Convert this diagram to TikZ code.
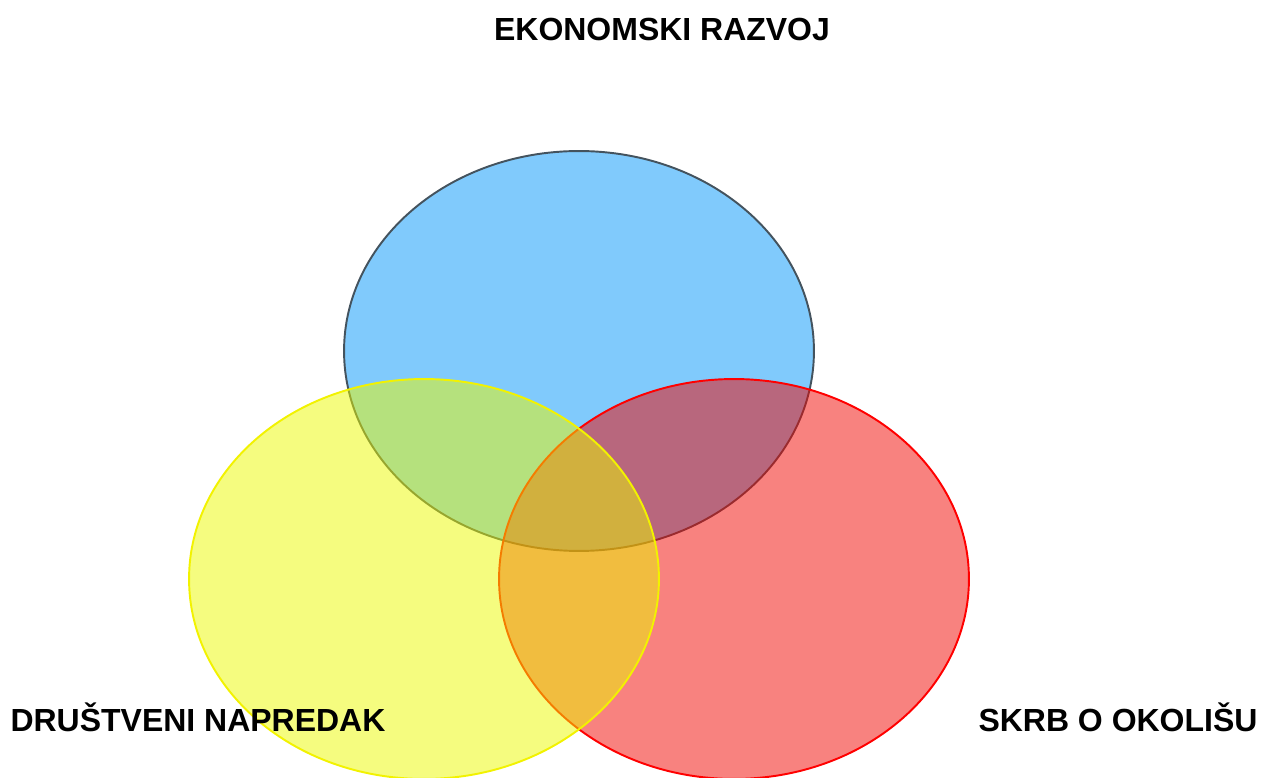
\documentclass[tikz,border=0pt]{standalone}
\usepackage{fontspec}
\setmainfont{Liberation Sans}
\usepackage{tikz}

\definecolor{ekoblue}{HTML}{0195F9}
\definecolor{ekoline}{HTML}{44535E}
\definecolor{okored}{HTML}{F10500}
\definecolor{drsyellow}{HTML}{EBF900}
\definecolor{drsline}{HTML}{F2F200}

\tikzset{
  setfill/.style={fill opacity=0.5, line width=1.1pt},
  setlabel/.style={anchor=base, inner sep=0pt, font=\fontsize{18.2}{22}\selectfont\bfseries}
}

\begin{document}
\begin{tikzpicture}[x=0.02cm, y=0.02cm]
\useasboundingbox (0,0) rectangle (1272,778);

\draw [setfill, fill=ekoblue, draw=ekoline] (579,427) ellipse [x radius=4.7cm, y radius=4cm];
\draw [setfill, fill=okored, draw=red] (734,199) ellipse [x radius=4.7cm, y radius=4cm];
\draw [setfill, fill=drsyellow, draw=drsline] (424,199) ellipse [x radius=4.7cm, y radius=4cm];

\node [setlabel] (eko) at (662,737) {EKONOMSKI RAZVOJ};
\node [setlabel] (drustvo) at (198,46) {DRUŠTVENI NAPREDAK};
\node [setlabel] (okolis) at (1118,46) {SKRB O OKOLIŠU};

\end{tikzpicture}
\end{document}
